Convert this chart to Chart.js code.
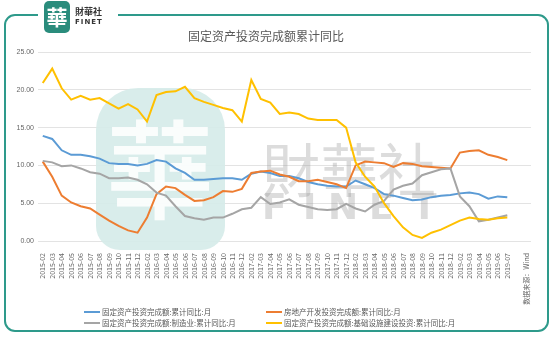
<!DOCTYPE html>
<html>
<head>
<meta charset="utf-8">
<script src="https://cdn.jsdelivr.net/npm/chart.js@4.4.1/dist/chart.umd.min.js"></script>
<style>
  html, body { margin: 0; padding: 0; background: #fff; }
  #wrap { width: 554px; height: 340px; position: relative; }
</style>
</head>
<body>
<div id="wrap"><canvas id="fai-chart"></canvas></div>
<script>
// monthly YTD readings, Jan is merged into Feb so it never appears
const months = [
  '2015-02','2015-03','2015-04','2015-05','2015-06','2015-07','2015-08','2015-09','2015-10','2015-11','2015-12',
  '2016-02','2016-03','2016-04','2016-05','2016-06','2016-07','2016-08','2016-09','2016-10','2016-11','2016-12',
  '2017-02','2017-03','2017-04','2017-05','2017-06','2017-07','2017-08','2017-09','2017-10','2017-11','2017-12',
  '2018-02','2018-03','2018-04','2018-05','2018-06','2018-07','2018-08','2018-09','2018-10','2018-11','2018-12',
  '2019-02','2019-03','2019-04','2019-05','2019-06','2019-07'
];
// the axis carries two trailing slots: a spacer and the source note
const tailLabels = ['', '数据来源：Wind'];

const totalFai = [
  13.9, 13.5, 12.0, 11.4, 11.4, 11.2, 10.9, 10.3, 10.2, 10.2, 10.0,
  10.2, 10.7, 10.5, 9.6, 9.0, 8.1, 8.1, 8.2, 8.3, 8.3, 8.1,
  8.9, 9.2, 9.0, 8.6, 8.6, 8.3, 7.8, 7.5, 7.3, 7.2, 7.2,
  8.0, 7.5, 7.0, 6.2, 6.0, 5.7, 5.4, 5.5, 5.8, 6.0, 6.1,
  6.3, 6.4, 6.2, 5.6, 5.9, 5.8
];
const realEstate = [
  10.5, 8.5, 6.0, 5.1, 4.6, 4.3, 3.5, 2.7, 2.0, 1.4, 1.1,
  3.1, 6.2, 7.2, 7.0, 6.1, 5.3, 5.4, 5.8, 6.6, 6.5, 6.9,
  9.0, 9.2, 9.3, 8.8, 8.5, 7.9, 7.9, 8.1, 7.8, 7.5, 7.0,
  10.0, 10.5, 10.4, 10.3, 9.8, 10.3, 10.2, 9.9, 9.8, 9.7, 9.6,
  11.7, 11.9, 12.0, 11.4, 11.1, 10.7
];
const manufacturing = [
  10.6, 10.4, 9.9, 10.0, 9.6, 9.1, 8.9, 8.3, 8.3, 8.4, 8.1,
  7.5, 6.4, 6.0, 4.6, 3.3, 3.0, 2.8, 3.1, 3.1, 3.6, 4.2,
  4.4, 5.8, 4.9, 5.1, 5.5, 4.8, 4.5, 4.2, 4.1, 4.2, 4.9,
  4.3, 3.9, 4.8, 5.3, 6.8, 7.3, 7.6, 8.7, 9.1, 9.5, 9.6,
  5.9, 4.6, 2.6, 2.8, 3.1, 3.4
];
const infrastructure = [
  20.9, 22.8, 20.2, 18.7, 19.2, 18.7, 18.9, 18.2, 17.5, 18.1, 17.4,
  15.8, 19.3, 19.7, 19.8, 20.4, 18.9, 18.4, 18.0, 17.6, 17.3, 15.8,
  21.3, 18.8, 18.3, 16.8, 17.0, 16.8, 16.2, 16.0, 16.0, 16.0, 15.0,
  10.4, 8.5, 7.2, 5.0, 3.3, 1.8, 0.8, 0.4, 1.1, 1.5, 2.1,
  2.7, 3.1, 2.9, 2.8, 3.0, 3.1
];

const seriesNames = [
  '固定资产投资完成额:累计同比:月',
  '房地产开发投资完成额:累计同比:月',
  '固定资产投资完成额:制造业:累计同比:月',
  '固定资产投资完成额:基础设施建设投资:累计同比:月'
];
const seriesColors = ['#5B9BD5', '#ED7D31', '#A5A5A5', '#FFC000'];
const yTicks = [0, 5, 10, 15, 20, 25];

const chartTitle = '固定资产投资完成额累计同比';
const CJK = "'Noto Sans CJK SC', 'Noto Sans', sans-serif";
const TEAL = '#2e9a8b';

// white page, rounded teal frame, corner logo and title
const framePlugin = {
  id: 'frame',
  beforeDraw(chart) {
    const ctx = chart.ctx;
    ctx.save();
    ctx.fillStyle = '#fff';
    ctx.fillRect(0, 0, chart.width, chart.height);

    ctx.strokeStyle = TEAL;
    ctx.lineWidth = 2;
    ctx.beginPath();
    ctx.roundRect(5, 15, 543, 316, 10);
    ctx.stroke();
    ctx.fillStyle = '#fff';
    ctx.fillRect(38, 11, 80, 8);

    ctx.fillStyle = '#2a8c7c';
    ctx.beginPath();
    ctx.roundRect(44, 1, 26, 32, 5);
    ctx.fill();
    ctx.fillStyle = '#fff';
    ctx.font = "bold 21px 'Noto Sans CJK TC', sans-serif";
    ctx.textAlign = 'center';
    ctx.textBaseline = 'middle';
    ctx.fillText('華', 57, 17);

    ctx.fillStyle = '#333';
    ctx.textAlign = 'left';
    ctx.textBaseline = 'alphabetic';
    ctx.font = "bold 9px 'Noto Sans CJK TC', sans-serif";
    ctx.fillText('財華社', 75, 15);
    ctx.font = "bold 7px 'DejaVu Sans', sans-serif";
    ctx.letterSpacing = '1px';
    ctx.fillText('FINET', 75, 24);
    ctx.letterSpacing = '0px';

    ctx.fillStyle = '#595959';
    ctx.font = '12px ' + CJK;
    ctx.textAlign = 'center';
    ctx.textBaseline = 'middle';
    ctx.fillText(chartTitle, 266, 36);
    ctx.restore();
  }
};

// faint brand mark behind the lines
const watermarkPlugin = {
  id: 'watermark',
  beforeDatasetsDraw(chart) {
    const ctx = chart.ctx;
    ctx.save();
    ctx.fillStyle = 'rgba(214,236,233,0.92)';
    ctx.beginPath();
    ctx.roundRect(96, 88, 129, 162, [42, 42, 24, 24]);
    ctx.fill();
    ctx.fillStyle = 'rgba(255,255,255,0.85)';
    ctx.font = "500 108px 'Noto Sans CJK TC', sans-serif";
    ctx.textAlign = 'center';
    ctx.textBaseline = 'middle';
    ctx.fillText('華', 160, 170);

    ctx.fillStyle = 'rgba(150,150,150,0.33)';
    ctx.textAlign = 'left';
    ctx.textBaseline = 'alphabetic';
    ctx.font = "58px 'Noto Sans CJK TC', sans-serif";
    ctx.fillText('財華社', 262, 192);
    ctx.font = "bold 36px 'DejaVu Sans', sans-serif";
    [['F', 262], ['I', 303], ['N', 328], ['E', 369], ['T', 412]].forEach(([ch, x]) => {
      ctx.fillText(ch, x, 219);
    });
    ctx.restore();
  }
};

// two-column legend under the axis
const legendPlugin = {
  id: 'gridLegend',
  afterDraw(chart) {
    const ctx = chart.ctx;
    const spots = [[84, 312], [266, 312], [84, 323], [266, 323]];
    ctx.save();
    ctx.font = '7.5px ' + CJK;
    ctx.textBaseline = 'middle';
    ctx.textAlign = 'left';
    chart.data.datasets.forEach((ds, i) => {
      const [x, y] = spots[i];
      ctx.strokeStyle = ds.borderColor;
      ctx.lineWidth = 2;
      ctx.beginPath();
      ctx.moveTo(x, y);
      ctx.lineTo(x + 16, y);
      ctx.stroke();
      ctx.fillStyle = '#595959';
      ctx.fillText(ds.label, x + 18, y);
    });
    ctx.restore();
  }
};

const seriesData = [totalFai, realEstate, manufacturing, infrastructure];

new Chart(document.getElementById('fai-chart'), {
  type: 'line',
  data: {
    labels: months.concat(tailLabels),
    datasets: seriesData.map((values, i) => ({
      label: seriesNames[i],
      data: values,
      borderColor: seriesColors[i],
      backgroundColor: seriesColors[i],
      borderWidth: 2,
      pointRadius: 0,
      tension: 0,
      fill: false,
      order: 4 - i
    }))
  },
  options: {
    responsive: true,
    maintainAspectRatio: false,
    devicePixelRatio: 1,
    animation: false,
    layout: { padding: { left: 0, right: 23, top: 52, bottom: 0 } },
    plugins: {
      legend: { display: false },
      title: { display: false },
      tooltip: { enabled: false }
    },
    scales: {
      x: {
        type: 'category',
        offset: true,
        grid: { display: false },
        border: { display: false },
        ticks: {
          autoSkip: false,
          minRotation: 90,
          maxRotation: 90,
          padding: 4,
          color: '#666',
          font: { size: 7, family: CJK }
        },
        afterFit: s => { s.height = 99; }
      },
      y: {
        min: 0,
        max: 25,
        afterBuildTicks: s => { s.ticks = yTicks.map(v => ({ value: v })); },
        grid: { color: '#d9d9d9', lineWidth: 0.75, drawTicks: false },
        border: { display: false },
        ticks: {
          padding: 4,
          color: '#666',
          font: { size: 7, family: "'Liberation Sans', sans-serif" },
          callback: v => v.toFixed(2)
        },
        afterFit: s => { s.width = 38; }
      }
    }
  },
  plugins: [framePlugin, watermarkPlugin, legendPlugin]
});
</script>
</body>
</html>
